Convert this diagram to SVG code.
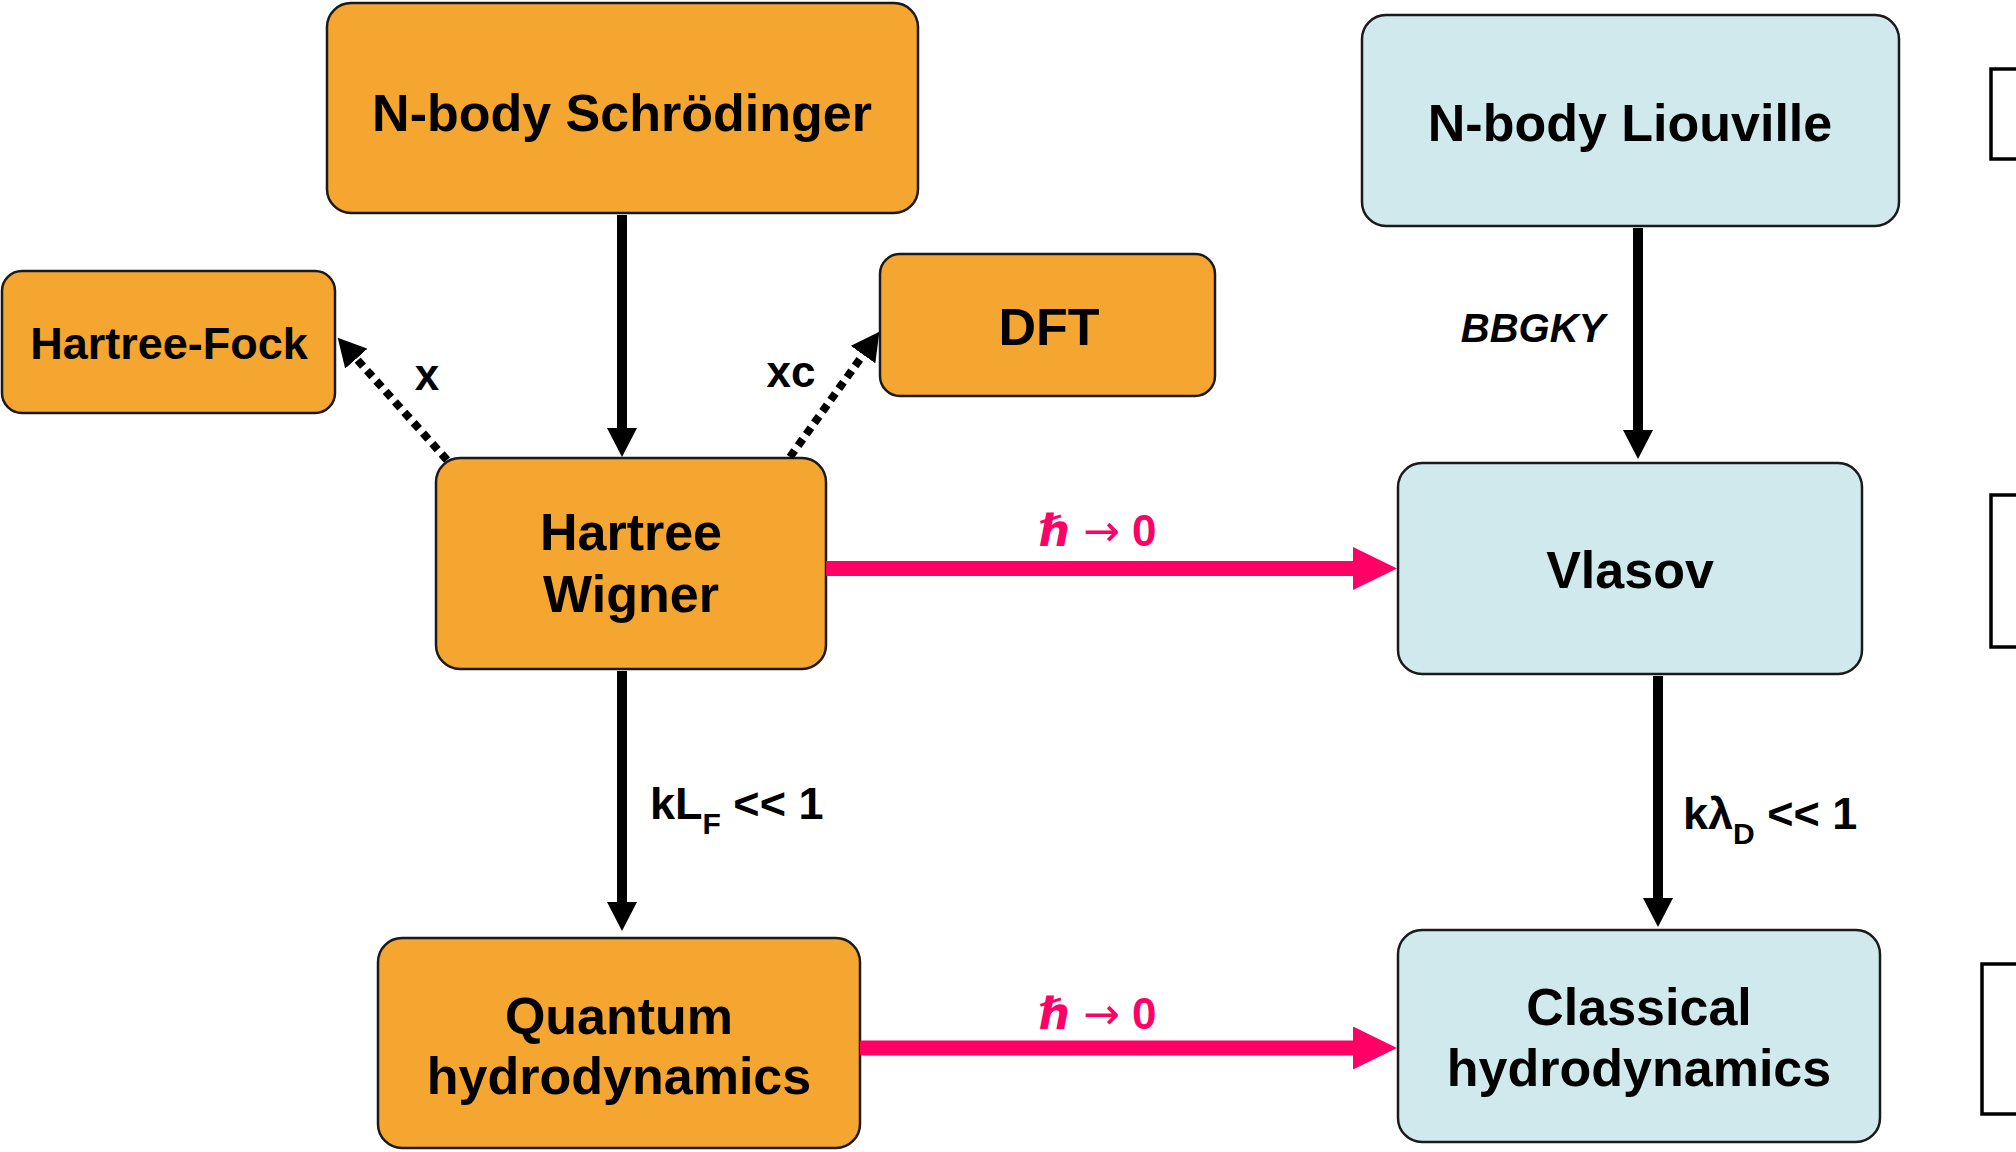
<svg xmlns="http://www.w3.org/2000/svg" width="2016" height="1152" viewBox="0 0 2016 1152">
<style>
.q{fill:#F4A630;stroke:#1a1a1a;stroke-width:2.5}
.c{fill:#D0E9ED;stroke:#1a1a1a;stroke-width:2.5}
.t{font-family:"Liberation Sans",Arial,sans-serif;font-weight:bold;fill:#000;text-anchor:middle}
.n{font-size:52px}
.lab{font-family:"Liberation Sans",Arial,sans-serif;font-weight:bold;fill:#000;font-size:45px}
.red{font-family:"Liberation Sans","DejaVu Sans",sans-serif;font-weight:bold;fill:#FF0066;font-size:44px;text-anchor:middle}
.arw{font-family:"DejaVu Sans",sans-serif;font-weight:normal}
.solid{stroke:#000;stroke-width:10;fill:none}
.dot{stroke:#000;stroke-width:8;stroke-dasharray:8 6;fill:none}
.rl{stroke:#FF0066;stroke-width:15;fill:none}
.side{fill:#fff;stroke:#000;stroke-width:3.5}
</style>
<defs>
<marker id="ah" markerUnits="userSpaceOnUse" markerWidth="30" markerHeight="30" refX="1" refY="15" orient="auto"><path d="M0,0 L29,15 L0,30 z" fill="#000"/></marker>
<marker id="ad" markerUnits="userSpaceOnUse" markerWidth="30" markerHeight="30" refX="1" refY="15" orient="auto"><path d="M0,0 L28,15 L0,30 z" fill="#000"/></marker>
<marker id="ar" markerUnits="userSpaceOnUse" markerWidth="45" markerHeight="44" refX="1" refY="21.5" orient="auto"><path d="M0,0 L44,21.5 L0,43 z" fill="#FF0066"/></marker>
</defs>
<rect width="2016" height="1152" fill="#fff"/>

<g id="node-schrodinger"><rect class="q" x="327" y="3" width="591" height="210" rx="24"/><text class="t n" x="622" y="131">N-body Schrödinger</text></g>
<g id="node-hartree-fock"><rect class="q" x="2" y="271" width="333" height="142" rx="20"/><text class="t" style="font-size:45px" x="169" y="359">Hartree-Fock</text></g>
<g id="node-dft"><rect class="q" x="880" y="254" width="335" height="142" rx="20"/><text class="t n" x="1049" y="345">DFT</text></g>
<g id="node-hartree-wigner"><rect class="q" x="436" y="458" width="390" height="211" rx="24"/><text class="t n" x="631" y="550">Hartree</text><text class="t n" x="631" y="612">Wigner</text></g>
<g id="node-quantum-hydro"><rect class="q" x="378" y="938" width="482" height="210" rx="24"/><text class="t n" x="619" y="1034">Quantum</text><text class="t n" x="619" y="1094">hydrodynamics</text></g>
<g id="node-liouville"><rect class="c" x="1362" y="15" width="537" height="211" rx="24"/><text class="t n" x="1630" y="141">N-body Liouville</text></g>
<g id="node-vlasov"><rect class="c" x="1398" y="463" width="464" height="211" rx="24"/><text class="t n" x="1630" y="588">Vlasov</text></g>
<g id="node-classical-hydro"><rect class="c" x="1398" y="930" width="482" height="212" rx="24"/><text class="t n" x="1639" y="1025">Classical</text><text class="t n" x="1639" y="1086">hydrodynamics</text></g>

<g id="side-boxes">
<rect class="side" x="1991" y="69" width="60" height="90"/>
<rect class="side" x="1991" y="495" width="60" height="152"/>
<rect class="side" x="1982" y="964" width="70" height="150"/>
</g>

<g id="connectors">
<line class="solid" x1="622" y1="215" x2="622" y2="429" marker-end="url(#ah)"/>
<line class="solid" x1="622" y1="671" x2="622" y2="903" marker-end="url(#ah)"/>
<line class="solid" x1="1638" y1="228" x2="1638" y2="431" marker-end="url(#ah)"/>
<line class="solid" x1="1658" y1="676" x2="1658" y2="899" marker-end="url(#ah)"/>
<line class="dot" x1="447" y1="460" x2="355.7" y2="357.9" marker-end="url(#ad)"/>
<line class="dot" x1="790" y1="457" x2="863.7" y2="353.8" marker-end="url(#ad)"/>
<line class="rl" x1="826" y1="568.5" x2="1354" y2="568.5" marker-end="url(#ar)"/>
<line class="rl" x1="860" y1="1048" x2="1354" y2="1048" marker-end="url(#ar)"/>
<text class="lab" x="427" y="390" text-anchor="middle" style="font-size:44px">x</text>
<text class="lab" x="791" y="387" text-anchor="middle" style="font-size:44px">xc</text>
<text class="lab" x="1533" y="342" text-anchor="middle" style="font-size:40px;font-style:italic">BBGKY</text>
<text class="lab" x="650" y="819">kL<tspan dy="15" style="font-size:30px">F</tspan><tspan dy="-15"> &lt;&lt; 1</tspan></text>
<text class="lab" x="1683" y="829">kλ<tspan dy="15" style="font-size:30px">D</tspan><tspan dy="-15"> &lt;&lt; 1</tspan></text>
<text class="red" x="1098" y="546"><tspan font-style="italic">ℏ</tspan> <tspan class="arw">→</tspan> 0</text>
<text class="red" x="1098" y="1029"><tspan font-style="italic">ℏ</tspan> <tspan class="arw">→</tspan> 0</text>
</g>
</svg>
